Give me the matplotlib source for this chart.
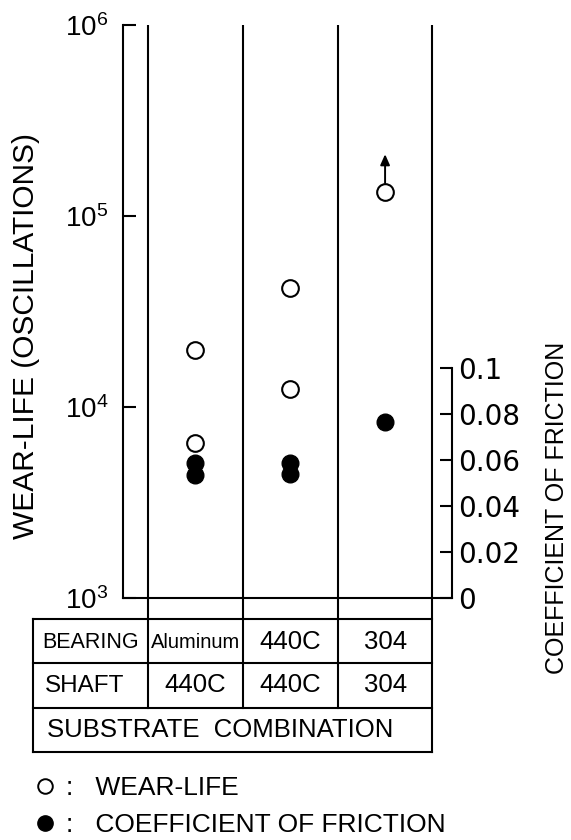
import matplotlib
matplotlib.use('Agg')
import matplotlib.pyplot as plt
from matplotlib.lines import Line2D
from matplotlib.ticker import NullLocator

plt.rcParams['font.family'] = ['Liberation Sans', 'DejaVu Sans']
plt.rcParams['mathtext.default'] = 'regular'

# ---------------- data ----------------
bearing = ['Aluminum', '440C', '304']
shaft = ['440C', '440C', '304']

wear_life_alu = [2.0e4, 6.5e3]
wear_life_440c = [4.2e4, 1.24e4]
wear_life_304 = [1.34e5]
wear_life_runout = [False, False, True]

friction_alu = [0.0585, 0.0533]
friction_440c = [0.0589, 0.0541]
friction_304 = [0.0767]

wear_ticks = [1e3, 1e4, 1e5, 1e6]
wear_tick_labels = ['$10^3$', '$10^4$', '$10^5$', '$10^6$']
friction_ticks = [0, 0.02, 0.04, 0.06, 0.08, 0.1]
friction_tick_labels = ['0', '0.02', '0.04', '0.06', '0.08', '0.1']

wear_life = [wear_life_alu, wear_life_440c, wear_life_304]
friction = [friction_alu, friction_440c, friction_304]

# ---------------- layout ----------------
W, H = 571, 840
fig = plt.figure(figsize=(W / 100, H / 100), dpi=100)
fig.patch.set_facecolor('white')


def px(l, t, r, b):
    return [l / W, 1 - b / H, (r - l) / W, (b - t) / H]


LW = 1.5
unit = 94.8                      # pixels per category
x0 = 0.5 - (148 - 123) / unit
x1 = 3.5 + (452 - 432.5) / unit

ax = fig.add_axes(px(123, 25, 452, 598))
ax.set_yscale('log')
ax.set_ylim(1e3, 1e6)
ax.set_xlim(x0, x1)
ax.set_xticks([])
ax.yaxis.set_minor_locator(NullLocator())
ax.set_yticks(wear_ticks, labels=wear_tick_labels)
ax.tick_params(axis='y', direction='in', length=9.4, width=LW, pad=10.5,
               labelsize=20)
ax.yaxis.get_major_ticks()[-1].tick1line.set_visible(False)
ax.spines['top'].set_visible(False)
ax.spines['right'].set_visible(False)
for s in ('left', 'bottom'):
    ax.spines[s].set_linewidth(LW)

for xc in [0.5, 1.5, 2.5, 3.5]:
    ax.axvline(xc, color='black', lw=LW)

ax.set_ylabel('WEAR-LIFE (OSCILLATIONS)', fontsize=21.5)
ax.yaxis.set_label_coords((26 - 123) / 329, (598 - 336) / 573)
ax.yaxis.label.set_verticalalignment('center')

# friction axis
ax2 = ax.twinx()
ax2.set_ylim(0, 0.1 * 573 / 230)
ax2.set_xlim(x0, x1)
for s in ('top', 'left', 'bottom'):
    ax2.spines[s].set_visible(False)
ax2.spines['right'].set_bounds(0, 0.1)
ax2.spines['right'].set_linewidth(LW)
ax2.set_yticks(friction_ticks, labels=friction_tick_labels)
ax2.tick_params(axis='y', direction='in', length=8.6, width=LW, pad=4.3,
                labelsize=20)
for lab in ax2.get_yticklabels():
    lab.set_family('DejaVu Sans')
ax2.set_ylabel('COEFFICIENT OF FRICTION', fontsize=18)
ax2.yaxis.set_label_coords((557 - 123) / 329, (598 - 508) / 573)
ax2.yaxis.label.set_verticalalignment('center')

open_style = dict(ls='none', marker='o', ms=12, mfc='white', mec='black',
                  mew=1.5, clip_on=False)
fill_style = dict(ls='none', marker='o', ms=12, mfc='black', mec='black',
                  mew=1.0, clip_on=False)

for i, (wl, fr, runout) in enumerate(zip(wear_life, friction, wear_life_runout)):
    xpos = i + 1
    ax.plot([xpos] * len(wl), wl, **open_style)
    ax2.plot([xpos] * len(fr), fr, **fill_style)
    if runout:
        ax.annotate('', xy=(xpos, max(wl)), xytext=(0, 27),
                    textcoords='offset points',
                    arrowprops=dict(arrowstyle='<|-,head_length=0.45,head_width=0.2',
                                    color='black', lw=1.4, shrinkA=0,
                                    shrinkB=6.2, mutation_scale=14))

# ---------------- table ----------------
row_h = (752 - 619) / 3
ytop = (752 - 598) / row_h
tax = fig.add_axes(px(123, 598, 452, 752))
tax.set_xlim(x0, x1)
tax.set_ylim(0, ytop)
tax.axis('off')
left_edge = x0 - (123 - 33) / unit
kw = dict(color='black', lw=LW, clip_on=False, solid_capstyle='projecting')
for yy in [0, 1, 2, 3]:
    tax.plot([left_edge, 3.5], [yy, yy], **kw)
tax.plot([left_edge, left_edge], [0, 3], **kw)
tax.plot([3.5, 3.5], [0, ytop], **kw)
for xc in [0.5, 1.5, 2.5]:
    tax.plot([xc, xc], [1, ytop], **kw)

tax.text(left_edge + 9 / unit, 2.48, 'BEARING', ha='left', va='center',
         fontsize=15.5)
tax.text(left_edge + 12 / unit, 1.5, 'SHAFT', ha='left', va='center',
         fontsize=17.5)
tax.text(left_edge + 14 / unit, 0.5, 'SUBSTRATE  COMBINATION', ha='left',
         va='center', fontsize=18.5)
for i, (b, s) in enumerate(zip(bearing, shaft)):
    tax.text(i + 1, 2.48, b, ha='center', va='center',
             fontsize=14.5 if len(b) > 5 else 18.5)
    tax.text(i + 1, 1.5, s, ha='center', va='center', fontsize=18.5)

# ---------------- legend ----------------
handles = [Line2D([], [], ls='none', marker='o', ms=10.5, mfc='white',
                  mec='black', mew=1.4),
           Line2D([], [], ls='none', marker='o', ms=11, mfc='black',
                  mec='black', mew=1.0)]
fig.legend(handles, [':   WEAR-LIFE', ':   COEFFICIENT OF FRICTION'],
           loc='upper left', bbox_to_anchor=(32 / W, 1 - 776 / H),
           frameon=False, fontsize=19, handlelength=1.0, handletextpad=0.3,
           labelspacing=0.5, borderpad=0, borderaxespad=0)

fig.savefig('out.png', dpi=100, facecolor='white')
